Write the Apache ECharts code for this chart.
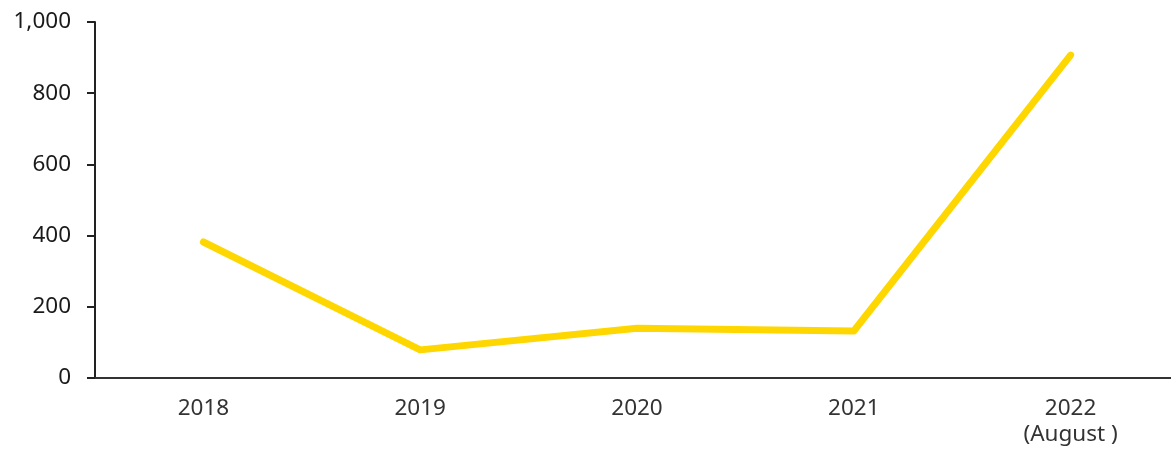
<!DOCTYPE html>
<html>
<head>
<meta charset="utf-8">
<script src="https://cdn.jsdelivr.net/npm/echarts@6/dist/echarts.min.js"></script>
<style>
  html, body { margin: 0; padding: 0; background: #fff; }
  #chart { width: 1171px; height: 450px; }
</style>
</head>
<body>
<div id="chart"></div>
<script>
const categories = ["2018", "2019", "2020", "2021", "2022\n(August )"];
const values = [382, 79, 140, 132, 907];
const yTicks = { min: 0, max: 1000, interval: 200 };

let myChart = echarts.init(document.getElementById("chart"));
let option = {
  animation: false,
  grid: { left: 95, right: -8, top: 22, bottom: 72, outerBoundsMode: "none", containLabel: false },
  xAxis: {
    type: "category",
    data: categories,
    boundaryGap: true,
    axisLine: { lineStyle: { color: "#333", width: 2 } },
    axisTick: { show: false },
    axisLabel: {
      color: "#333",
      fontFamily: "Noto Sans",
      fontSize: 22.5,
      lineHeight: 26,
      margin: 18,
    },
  },
  yAxis: {
    type: "value",
    min: yTicks.min,
    max: yTicks.max,
    interval: yTicks.interval,
    splitLine: { show: false },
    axisLine: { show: true, lineStyle: { color: "#222", width: 2 } },
    axisTick: { show: true, length: 8, lineStyle: { color: "#222", width: 2 } },
    axisLabel: {
      color: "#1a1a1a",
      fontFamily: "Noto Sans",
      fontSize: 22.5,
      margin: 24,
      formatter: (v) => v.toLocaleString("en-US"),
    },
  },
  series: [
    {
      type: "line",
      data: values,
      symbol: "none",
      lineStyle: { color: "#FFD700", width: 7, cap: "round", join: "round" },
    },
  ],
};
option && myChart.setOption(option);
</script>
</body>
</html>
